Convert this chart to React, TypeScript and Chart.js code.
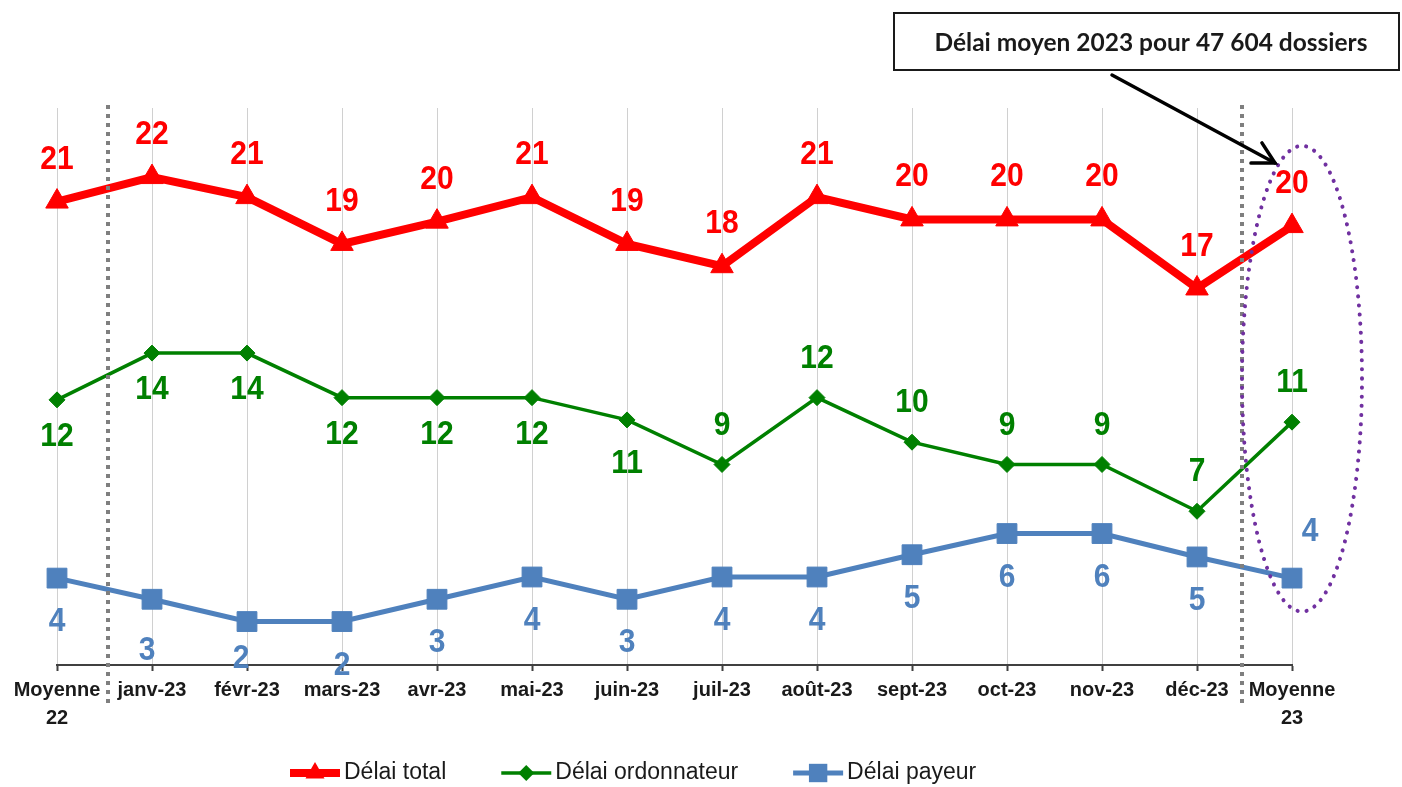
import React, { useEffect, useRef } from 'react';
import { Chart, registerables } from 'chart.js';

Chart.register(...registerables);

// ---------- data ----------
const categories: (string | string[])[] = [
  ['Moyenne', '22'], 'janv-23', 'févr-23', 'mars-23', 'avr-23', 'mai-23', 'juin-23',
  'juil-23', 'août-23', 'sept-23', 'oct-23', 'nov-23', 'déc-23', ['Moyenne', '23'],
];
const delaiTotal = [20.8, 21.9, 21.0, 18.9, 19.9, 21.0, 18.9, 17.9, 21.0, 20.0, 20.0, 20.0, 16.9, 19.7];
const delaiOrdonnateur = [11.9, 14.0, 14.0, 12.0, 12.0, 12.0, 11.0, 9.0, 12.0, 10.0, 9.0, 9.0, 6.9, 10.9];
const delaiPayeur = [3.9, 2.95, 1.95, 1.95, 2.95, 3.95, 2.95, 3.95, 3.95, 4.95, 5.9, 5.9, 4.85, 3.9];
const seriesNames = ['Délai total', 'Délai ordonnateur', 'Délai payeur'];
const seriesColors = ['#ff0000', '#008000', '#4f81bd'];
const annotationText = 'Délai moyen 2023 pour 47 604 dossiers';
const yMin = 0;
const yMax = 25;

const SANS = '"Liberation Sans", Arial, sans-serif';

// label placement (layout only)
function labelOffset(ds: number, j: number, n: number): [number, number] {
  if (ds === 0) return [0, -42];
  if (ds === 1) {
    if (j <= 6) return [0, j === 6 ? 44 : 37];
    return [0, -39];
  }
  if (j === n - 1) return [18, -46];
  if (j === 1) return [-5, 52];
  if (j === 2) return [-6, 37];
  return [0, 44];
}

function drawMarker(ctx: CanvasRenderingContext2D, style: string, x: number, y: number, r: number) {
  ctx.beginPath();
  if (style === 'triangle') {
    ctx.moveTo(x, y - r);
    ctx.lineTo(x + r * 0.866, y + r * 0.5);
    ctx.lineTo(x - r * 0.866, y + r * 0.5);
    ctx.closePath();
  } else if (style === 'rectRot') {
    ctx.moveTo(x, y - r);
    ctx.lineTo(x + r, y);
    ctx.lineTo(x, y + r);
    ctx.lineTo(x - r, y);
    ctx.closePath();
  } else {
    const s = r * Math.SQRT1_2;
    ctx.rect(x - s, y - s, 2 * s, 2 * s);
  }
  ctx.fill();
}

const overlayPlugin = {
  id: 'overlay',
  afterDatasetsDraw(chart: any) {
    const ctx: CanvasRenderingContext2D = chart.ctx;
    const xs = chart.scales.x;
    const ys = chart.scales.y;

    // data labels
    chart.data.datasets.forEach((ds: any, i: number) => {
      const meta = chart.getDatasetMeta(i);
      meta.data.forEach((pt: any, j: number) => {
        const [dx, dy] = labelOffset(i, j, meta.data.length);
        const txt = String(Math.round(ds.data[j]));
        ctx.save();
        ctx.translate(pt.x + dx, pt.y + dy);
        ctx.scale(1, 1.1);
        ctx.font = `bold 30px ${SANS}`;
        ctx.fillStyle = seriesColors[i];
        ctx.textAlign = 'center';
        ctx.textBaseline = 'middle';
        ctx.fillText(txt, 0, 0);
        ctx.restore();
      });
    });

    // dotted separators
    ctx.save();
    ctx.strokeStyle = '#7f7f7f';
    ctx.lineWidth = 4;
    ctx.setLineDash([4, 5]);
    [0.54, categories.length - 1.53].forEach((v) => {
      const x = Math.round(xs.getPixelForValue(v));
      ctx.beginPath();
      ctx.moveTo(x, chart.chartArea.top - 3);
      ctx.lineTo(x, chart.chartArea.bottom + 40);
      ctx.stroke();
    });
    ctx.restore();

    // ellipse around last category
    const lastX = xs.getPixelForValue(categories.length - 1);
    const yTop = ys.getPixelForValue(23.3);
    const yBot = ys.getPixelForValue(2.4);
    ctx.save();
    ctx.strokeStyle = '#7030a0';
    ctx.lineWidth = 4;
    ctx.lineCap = 'round';
    ctx.setLineDash([0.1, 9]);
    ctx.beginPath();
    ctx.ellipse(lastX + 10, (yTop + yBot) / 2, 60, (yBot - yTop) / 2, 0, 0, Math.PI * 2);
    ctx.stroke();
    ctx.restore();

    // annotation box
    ctx.save();
    const bx = 894, by = 13, bw = 505, bh = 57;
    ctx.fillStyle = '#ffffff';
    ctx.fillRect(bx, by, bw, bh);
    ctx.strokeStyle = '#1a1a1a';
    ctx.lineWidth = 2;
    ctx.strokeRect(bx, by, bw, bh);
    let fs = 22;
    ctx.font = `bold ${fs}px Lato, "Open Sans", sans-serif`;
    const w = ctx.measureText(annotationText).width;
    fs = fs * 433 / w;
    ctx.font = `bold ${fs}px Lato, "Open Sans", sans-serif`;
    ctx.fillStyle = '#1a1a1a';
    ctx.textAlign = 'center';
    ctx.textBaseline = 'middle';
    ctx.fillText(annotationText, 1151, 43);
    // arrow
    const ax0 = 1112, ay0 = 75, ax1 = 1275, ay1 = 163;
    ctx.strokeStyle = '#000000';
    ctx.lineWidth = 3.5;
    ctx.lineCap = 'round';
    ctx.beginPath();
    ctx.moveTo(ax0, ay0);
    ctx.lineTo(ax1, ay1);
    ctx.stroke();
    const ang = Math.atan2(ay1 - ay0, ax1 - ax0);
    const hl = 24;
    ctx.beginPath();
    ctx.moveTo(ax1 - hl * Math.cos(ang - 0.5), ay1 - hl * Math.sin(ang - 0.5));
    ctx.lineTo(ax1, ay1);
    ctx.lineTo(ax1 - hl * Math.cos(ang + 0.5), ay1 - hl * Math.sin(ang + 0.5));
    ctx.stroke();
    ctx.restore();
  },
  afterDraw(chart: any) {
    const ctx: CanvasRenderingContext2D = chart.ctx;
    ctx.save();
    ctx.font = `23px ${SANS}`;
    ctx.textBaseline = 'middle';
    ctx.textAlign = 'left';
    let x = 290;
    const y = 773;
    chart.data.datasets.forEach((ds: any, i: number) => {
      ctx.strokeStyle = seriesColors[i];
      ctx.fillStyle = seriesColors[i];
      ctx.lineWidth = ds.borderWidth;
      ctx.beginPath();
      ctx.moveTo(x, y);
      ctx.lineTo(x + 50, y);
      ctx.stroke();
      const r = ds.pointStyle === 'rect' ? 13 : ds.pointStyle === 'triangle' ? 11 : 8;
      drawMarker(ctx, ds.pointStyle, x + 25, y, r);
      ctx.fillStyle = '#1a1a1a';
      ctx.fillText(seriesNames[i], x + 54, y);
      x += 54 + ctx.measureText(seriesNames[i]).width + 55;
    });
    ctx.restore();
  },
};

export default function App() {
  const ref = useRef<HTMLCanvasElement>(null);
  useEffect(() => {
    if (!ref.current) return;
    const chart = new Chart(ref.current, {
      type: 'line',
      data: {
        labels: categories as any,
        datasets: [
          {
            label: seriesNames[0], data: delaiTotal, borderColor: seriesColors[0], backgroundColor: seriesColors[0],
            borderWidth: 8, pointStyle: 'triangle', pointRadius: 13, pointBorderWidth: 1,
            pointBackgroundColor: seriesColors[0], pointBorderColor: seriesColors[0],
          },
          {
            label: seriesNames[1], data: delaiOrdonnateur, borderColor: seriesColors[1], backgroundColor: seriesColors[1],
            borderWidth: 3.5, pointStyle: 'rectRot', pointRadius: 8, pointBorderWidth: 1,
            pointBackgroundColor: seriesColors[1], pointBorderColor: seriesColors[1],
          },
          {
            label: seriesNames[2], data: delaiPayeur, borderColor: seriesColors[2], backgroundColor: seriesColors[2],
            borderWidth: 5, pointStyle: 'rect', pointRadius: 14, pointBorderWidth: 1,
            pointBackgroundColor: seriesColors[2], pointBorderColor: seriesColors[2],
          },
        ],
      },
      options: {
        responsive: false,
        animation: false,
        devicePixelRatio: 1,
        layout: { padding: { left: 57, right: 110, top: 108, bottom: 0 } },
        plugins: { legend: { display: false }, tooltip: { enabled: false } },
        scales: {
          x: {
            offset: false,
            afterFit: (s: any) => { s.height = 122; },
            grid: { color: '#d0d0d0', lineWidth: 1, tickColor: '#404040', tickLength: 6, tickWidth: 2 },
            border: { display: true, color: '#404040', width: 2 },
            ticks: {
              autoSkip: false, maxRotation: 0, padding: 5, color: '#1a1a1a',
              font: { family: SANS, size: 20, weight: 'bold', lineHeight: 1.4 },
            },
          },
          y: { display: false, min: yMin, max: yMax },
        },
      },
      plugins: [overlayPlugin],
    } as any);
    return () => chart.destroy();
  }, []);
  return (
    <div style={{ position: 'fixed', left: 0, top: 0, width: 1402, height: 787, background: '#fff' }}>
      <canvas ref={ref} width={1402} height={787} style={{ display: 'block' }} />
    </div>
  );
}
